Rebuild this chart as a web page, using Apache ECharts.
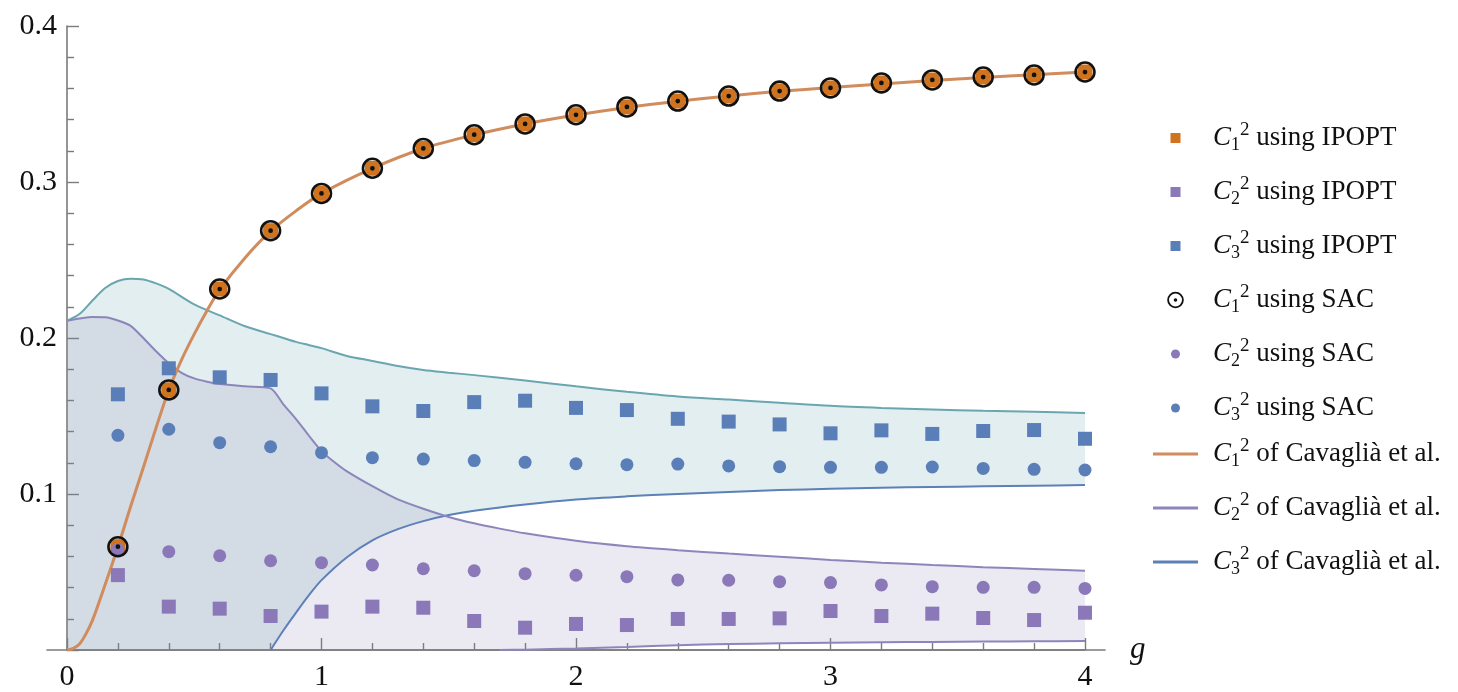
<!DOCTYPE html>
<html>
<head>
<meta charset="utf-8">
<script src="https://cdn.jsdelivr.net/npm/echarts@6/dist/echarts.min.js"></script>
<style>html,body{margin:0;padding:0;background:#fff;}#chart{width:1458px;height:692px;}</style>
</head>
<body>
<div id="chart"></div>
<script>
// ---- data ----
const xPoints = [0.2,0.4,0.6,0.8,1.0,1.2,1.4,1.6,1.8,2.0,2.2,2.4,2.6,2.8,3.0,3.2,3.4,3.6,3.8,4.0];
const c1Ipopt = [0.0662,0.1667,0.2314,0.2688,0.2927,0.3088,0.3215,0.3303,0.3372,0.3431,0.3481,0.3519,0.3551,0.3583,0.3603,0.3635,0.3654,0.3673,0.3686,0.3705];
const c2Ipopt = [0.048,0.0278,0.0265,0.0218,0.0246,0.0278,0.0271,0.0186,0.0143,0.0167,0.016,0.0199,0.0199,0.0203,0.025,0.0218,0.0233,0.0205,0.0192,0.0239];
const c3Ipopt = [0.1639,0.1806,0.1748,0.1731,0.1645,0.1562,0.1532,0.1589,0.1598,0.1552,0.1538,0.1482,0.1464,0.1446,0.1389,0.1408,0.1385,0.1404,0.141,0.1354];
const c1Sac = [0.0662,0.1667,0.2314,0.2688,0.2927,0.3088,0.3215,0.3303,0.3372,0.3431,0.3481,0.3519,0.3551,0.3583,0.3603,0.3635,0.3654,0.3673,0.3686,0.3705];
const c2Sac = [0.0645,0.063,0.0604,0.0572,0.056,0.0545,0.0521,0.0508,0.0489,0.0479,0.047,0.0449,0.0447,0.0438,0.0432,0.0417,0.0406,0.0402,0.0402,0.0395];
const c3Sac = [0.1376,0.1415,0.1329,0.1303,0.1265,0.1233,0.1224,0.1214,0.1203,0.1194,0.1188,0.1192,0.118,0.1175,0.1171,0.1171,0.1173,0.1164,0.1158,0.1154];

const c1CurveX = [0,0.025,0.05,0.075,0.1,0.15,0.2,0.25,0.3,0.35,0.4,0.45,0.5,0.55,0.6,0.7,0.8,0.9,1.0,1.2,1.4,1.6,1.8,2.0,2.2,2.4,2.6,2.8,3.0,3.2,3.4,3.6,3.8,4.0];
const c1CurveY = [0,0.001,0.004,0.0105,0.019,0.042,0.066,0.092,0.117,0.1425,0.1667,0.186,0.2025,0.2175,0.231,0.2515,0.2685,0.2815,0.2927,0.3088,0.3215,0.3302,0.3372,0.3429,0.3478,0.3518,0.3552,0.3581,0.3605,0.3628,0.365,0.367,0.3688,0.3705];

const c2BandX = [0,0.05,0.1,0.15,0.2,0.25,0.3,0.35,0.4,0.45,0.5,0.55,0.6,0.7,0.8,0.85,0.9,0.95,1.0,1.05,1.1,1.2,1.3,1.4,1.5,1.6,1.7,1.8,2.0,2.2,2.4,2.6,2.8,3.0,3.2,3.4,3.6,3.8,4.0];
const c2Upper = [0.211,0.2125,0.2135,0.2133,0.2112,0.2078,0.2,0.1915,0.1838,0.1777,0.1741,0.172,0.1705,0.169,0.1677,0.1575,0.148,0.1375,0.1275,0.1205,0.1145,0.105,0.0965,0.0905,0.0853,0.0812,0.0778,0.0748,0.07,0.0665,0.064,0.0618,0.0598,0.0577,0.056,0.0545,0.0531,0.0519,0.0508];
const c2Lower = [0,0,0,0,0,0,0,0,0,0,0,0,0,0,0,0,0,0,0,0,0,0,0,0,0,0,0,0.0002,0.001,0.002,0.0031,0.0038,0.0043,0.0047,0.005,0.0052,0.0054,0.0056,0.0057];

const c3BandX = [0,0.05,0.1,0.15,0.2,0.25,0.3,0.35,0.4,0.5,0.6,0.7,0.8,0.85,0.9,0.95,1.0,1.1,1.2,1.3,1.4,1.5,1.6,1.8,2.0,2.2,2.4,2.6,2.8,3.0,3.2,3.4,3.6,3.8,4.0];
const c3Upper = [0.211,0.2155,0.224,0.232,0.2365,0.238,0.2375,0.235,0.2315,0.2215,0.2145,0.2075,0.2025,0.2,0.1975,0.1955,0.1935,0.1885,0.1853,0.182,0.1795,0.1778,0.1762,0.1728,0.169,0.1655,0.1625,0.1605,0.1585,0.1565,0.1552,0.1542,0.1533,0.1527,0.152];
const c3Lower = [0,0,0,0,0,0,0,0,0,0,0,0,0,0.0125,0.024,0.035,0.0448,0.0595,0.0703,0.0775,0.0826,0.0865,0.0893,0.0933,0.0965,0.0985,0.1,0.1013,0.1025,0.1033,0.104,0.1045,0.1049,0.1053,0.1057];

const xTickLabels = ['0','1','2','3','4'];
const yTickLabels = ['', '0.1', '0.2', '0.3', '0.4'];

const names = {
  c1i: 'C1² using IPOPT', c2i: 'C2² using IPOPT', c3i: 'C3² using IPOPT',
  c1s: 'C1² using SAC', c2s: 'C2² using SAC', c3s: 'C3² using SAC',
  c1l: 'C1² of Cavaglià et al.', c2l: 'C2² of Cavaglià et al.', c3l: 'C3² of Cavaglià et al.'
};

// ---- styles ----
const ORANGE = '#D0731E', PURPLE = '#8A78B8', BLUE = '#5A7FB8';
const TEAL_LINE = '#6AA6AF', BLUE_LINE = '#5C80B8', PURPLE_LINE = '#8C86BB', ORANGE_LINE = '#D08C5C';
const SERIF = 'Liberation Serif';
const ringPath = 'path://M0,10a10,10 0 1,0 20,0a10,10 0 1,0 -20,0zM2.4,10a7.6,7.6 0 1,1 15.2,0a7.6,7.6 0 1,1 -15.2,0zM7.8,10a2.2,2.2 0 1,0 4.4,0a2.2,2.2 0 1,0 -4.4,0z';
const iconSquare = 'path://M0,0M55,18M17.5,4h10v10h-10z';
const iconDot = 'path://M0,0M55,18M18,9a4.5,4.5 0 1,0 9,0a4.5,4.5 0 1,0 -9,0z';
const iconRing = 'path://M0,0M55,18M14.2,9a8.3,8.3 0 1,0 16.6,0a8.3,8.3 0 1,0 -16.6,0zM16,9a6.5,6.5 0 1,1 13,0a6.5,6.5 0 1,1 -13,0zM20.7,9a1.8,1.8 0 1,0 3.6,0a1.8,1.8 0 1,0 -3.6,0z';
const iconLine = 'path://M0,0M55,18M0,7.5h45v3h-45z';

function pairs(xs, ys) { return xs.map((x, i) => [x, ys[i]]); }
function visibleLower(xs, ys) {
  const out = [];
  xs.forEach((x, i) => { if (ys[i] > 0 || (i + 1 < ys.length && ys[i + 1] > 0)) out.push([x, ys[i]]); });
  return out;
}
function bandSeries(name, xs, lo, hi, fill) {
  return {
    type: 'custom', name: name, xAxisIndex: 0, yAxisIndex: 0, silent: true, z: 1,
    data: xs.map((x, i) => [x, lo[i], hi[i]]),
    encode: { x: 0, y: [1, 2] },
    renderItem: function (params, api) {
      if (params.dataIndex !== 0) return null;
      const pts = [];
      for (let i = 0; i < xs.length; i++) pts.push(api.coord([xs[i], hi[i]]));
      for (let i = xs.length - 1; i >= 0; i--) pts.push(api.coord([xs[i], lo[i]]));
      return { type: 'polygon', shape: { points: pts }, style: { fill: fill, stroke: null, lineWidth: 0 } };
    }
  };
}
function lineSeries(name, data, color, width, smooth) {
  return { type: 'line', name: name, data: data, xAxisIndex: 0, yAxisIndex: 0, symbol: 'none', showSymbol: false,
    smooth: smooth, lineStyle: { color: color, width: width }, itemStyle: { color: color }, z: 2, silent: true };
}
function scatterSeries(name, ys, symbol, size, color, z) {
  return { type: 'scatter', name: name, data: pairs(xPoints, ys), xAxisIndex: 0, yAxisIndex: 0,
    symbol: symbol, symbolSize: size, itemStyle: { color: color, opacity: 1 }, z: z, silent: true };
}

const richStyles = {
  c: { fontFamily: SERIF, fontSize: 27, fontStyle: 'italic', color: '#111', lineHeight: 36 },
  sub: { fontFamily: SERIF, fontSize: 18, color: '#111', lineHeight: 36, padding: [14, 0, 0, 0] },
  sup: { fontFamily: SERIF, fontSize: 19, color: '#111', lineHeight: 36, padding: [0, 0, 15, 0] },
  t: { fontFamily: SERIF, fontSize: 27, color: '#111', lineHeight: 36 }
};
function legendFormatter(name) {
  const m = name.match(/^C(\d)² (.*)$/);
  return '{c|C}{sub|' + m[1] + '}{sup|2}{t| ' + m[2] + '}';
}
const legendCommon = {
  orient: 'vertical', left: 1148, itemWidth: 55, itemHeight: 18, itemGap: 20,
  formatter: legendFormatter, selectedMode: false,
  textStyle: { fontFamily: SERIF, fontSize: 27, color: '#111', rich: richStyles }
};

const axisGray = '#7b7b7b';
const option = {
  animation: false,
  backgroundColor: '#ffffff',
  grid: [
    { left: 67, right: 373, top: 26, bottom: 42 },
    { left: 47, right: 353, top: 26, bottom: 42 }
  ],
  xAxis: [
    { type: 'value', gridIndex: 0, min: 0, max: 4, interval: 1,
      axisLine: { show: true, onZero: true, lineStyle: { color: axisGray, width: 1.6 } },
      axisTick: { show: true, inside: true, length: 12, lineStyle: { color: axisGray, width: 1.4 } },
      minorTick: { show: true, splitNumber: 5, length: 7, lineStyle: { color: axisGray, width: 1.4 } },
      splitLine: { show: false }, minorSplitLine: { show: false },
      axisLabel: { margin: 12, fontFamily: SERIF, fontSize: 30, color: '#111',
        formatter: function (v) { return xTickLabels[Math.round(v)]; } } },
    { type: 'value', gridIndex: 1, min: 0, max: 1,
      axisLine: { show: true, lineStyle: { color: axisGray, width: 1.6 } },
      axisTick: { show: false }, axisLabel: { show: false }, splitLine: { show: false },
      name: 'g', nameLocation: 'end', nameGap: 25,
      nameTextStyle: { fontFamily: SERIF, fontSize: 31, fontStyle: 'italic', color: '#111', padding: [4, 0, 0, 0] } }
  ],
  yAxis: [
    { type: 'value', gridIndex: 0, min: 0, max: 0.4, interval: 0.1,
      axisLine: { show: true, onZero: true, lineStyle: { color: axisGray, width: 1.6 } },
      axisTick: { show: true, inside: true, length: 12, lineStyle: { color: axisGray, width: 1.4 } },
      minorTick: { show: true, splitNumber: 5, length: 7, lineStyle: { color: axisGray, width: 1.4 } },
      splitLine: { show: false }, minorSplitLine: { show: false },
      axisLabel: { margin: 10, fontFamily: SERIF, fontSize: 30, color: '#111',
        formatter: function (v) { return yTickLabels[Math.round(v * 10)]; } } },
    { type: 'value', gridIndex: 1, min: 0, max: 1, show: false }
  ],
  legend: [
    Object.assign({}, legendCommon, { top: 116, data: [
      { name: names.c1i, icon: iconSquare, itemStyle: { color: ORANGE, borderWidth: 0 } },
      { name: names.c2i, icon: iconSquare, itemStyle: { color: PURPLE, borderWidth: 0 } },
      { name: names.c3i, icon: iconSquare, itemStyle: { color: BLUE, borderWidth: 0 } },
      { name: names.c1s, icon: iconRing, itemStyle: { color: '#111', borderWidth: 0 } },
      { name: names.c2s, icon: iconDot, itemStyle: { color: PURPLE, borderWidth: 0 } },
      { name: names.c3s, icon: iconDot, itemStyle: { color: BLUE, borderWidth: 0 } }
    ] }),
    Object.assign({}, legendCommon, { top: 432, data: [
      { name: names.c1l, icon: iconLine, itemStyle: { color: ORANGE_LINE, borderWidth: 0 } },
      { name: names.c2l, icon: iconLine, itemStyle: { color: PURPLE_LINE, borderWidth: 0 } },
      { name: names.c3l, icon: iconLine, itemStyle: { color: BLUE_LINE, borderWidth: 0 } }
    ] })
  ],
  series: [
    bandSeries('c3band', c3BandX, c3Lower, c3Upper, 'rgba(95,160,170,0.18)'),
    bandSeries('c2band', c2BandX, c2Lower, c2Upper, 'rgba(135,125,175,0.17)'),
    lineSeries('c3upper', pairs(c3BandX, c3Upper), TEAL_LINE, 2, 0.3),
    lineSeries(names.c3l, visibleLower(c3BandX, c3Lower), BLUE_LINE, 2, 0.3),
    lineSeries(names.c2l, pairs(c2BandX, c2Upper), PURPLE_LINE, 2, 0.25),
    lineSeries('c2lower', visibleLower(c2BandX, c2Lower), PURPLE_LINE, 2, 0.3),
    lineSeries(names.c1l, pairs(c1CurveX, c1CurveY), ORANGE_LINE, 3, 0.3),
    scatterSeries(names.c1i, c1Ipopt, 'rect', 15, ORANGE, 3),
    scatterSeries(names.c2i, c2Ipopt, 'rect', 14, PURPLE, 3),
    scatterSeries(names.c3i, c3Ipopt, 'rect', 14, BLUE, 3),
    scatterSeries(names.c2s, c2Sac, 'circle', 13, PURPLE, 4),
    scatterSeries(names.c3s, c3Sac, 'circle', 13, BLUE, 4),
    scatterSeries(names.c1s, c1Sac, ringPath, 21.5, '#111', 5)
  ]
};
const chart = echarts.init(document.getElementById('chart'), null, { renderer: 'canvas' });
chart.setOption(option);
</script>
</body>
</html>
